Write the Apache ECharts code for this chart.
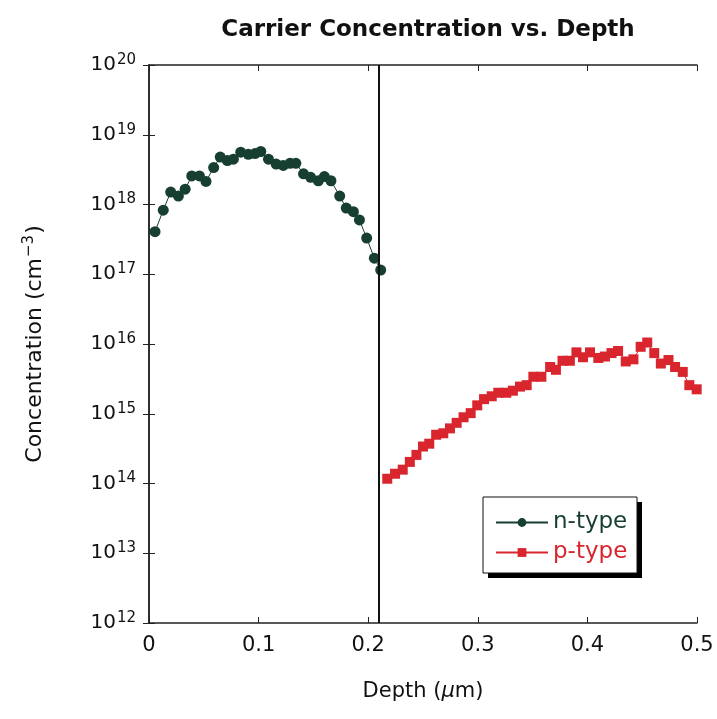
<!DOCTYPE html>
<html>
<head>
<meta charset="utf-8">
<script src="https://cdn.jsdelivr.net/npm/echarts@6/dist/echarts.min.js"></script>
<style>
  html, body { margin: 0; padding: 0; background: #fff; }
  #chart { width: 717px; height: 719px; }
</style>
</head>
<body>
<div id="chart"></div>
<script>
// 深度 (μm) 与浓度 (cm^-3)
var nDepth = [0.0055, 0.013, 0.0198, 0.0268, 0.033, 0.039, 0.046, 0.052, 0.059, 0.065, 0.0715,
  0.077, 0.0837, 0.0906, 0.0967, 0.102, 0.109, 0.116, 0.1225, 0.1287, 0.134, 0.141, 0.1475,
  0.1545, 0.160, 0.166, 0.174, 0.180, 0.1865, 0.192, 0.1986, 0.2056, 0.2114];
var nConc = [4.07e17, 8.3e17, 1.51e18, 1.32e18, 1.66e18, 2.57e18, 2.57e18, 2.14e18, 3.39e18, 4.79e18, 4.27e18,
  4.47e18, 5.62e18, 5.25e18, 5.37e18, 5.75e18, 4.47e18, 3.80e18, 3.63e18, 3.89e18, 3.89e18, 2.75e18, 2.45e18,
  2.19e18, 2.51e18, 2.19e18, 1.32e18, 8.9e17, 7.9e17, 6.0e17, 3.3e17, 1.7e17, 1.15e17];

var pDepth = [0.2174, 0.2245, 0.2315, 0.238, 0.244, 0.250, 0.2557, 0.262, 0.2685, 0.2746, 0.2807,
  0.287, 0.2935, 0.2995, 0.3057, 0.3127, 0.3187, 0.326, 0.332, 0.3385, 0.3446, 0.3507, 0.358,
  0.366, 0.3713, 0.3773, 0.384, 0.390, 0.396, 0.4024, 0.410, 0.416, 0.422, 0.428, 0.435,
  0.442, 0.4486, 0.4546, 0.461, 0.467, 0.474, 0.480, 0.487, 0.493, 0.4997];
var pConc = [1.17e14, 1.38e14, 1.58e14, 2.04e14, 2.57e14, 3.39e14, 3.72e14, 5.0e14, 5.25e14, 6.17e14, 7.41e14,
  8.9e14, 1.02e15, 1.32e15, 1.62e15, 1.78e15, 2.0e15, 2.0e15, 2.14e15, 2.45e15, 2.57e15, 3.39e15, 3.39e15,
  4.68e15, 4.27e15, 5.75e15, 5.75e15, 7.59e15, 6.46e15, 7.59e15, 6.31e15, 6.61e15, 7.41e15, 7.94e15, 5.62e15,
  6.03e15, 9.12e15, 1.05e16, 7.41e15, 5.25e15, 5.89e15, 4.68e15, 3.98e15, 2.57e15, 2.24e15];

var xTicks = [0, 0.1, 0.2, 0.3, 0.4, 0.5];
var junctionDepth = 0.21;

var nColor = '#173f31';
var pColor = '#d9252d';
var font = '"DejaVu Sans", sans-serif';

function pairs(xs, ys) {
  var out = [];
  for (var i = 0; i < xs.length; i++) out.push([xs[i], ys[i]]);
  return out;
}

var chart = echarts.init(document.getElementById('chart'));

var xBase = {
  type: 'value', min: 0, max: 0.5, interval: 0.1,
  axisLine: { show: true, onZero: false, lineStyle: { color: '#222', width: 1.5 } },
  axisTick: { show: true, inside: true, length: 6, lineStyle: { color: '#222' } },
  splitLine: { show: false }
};
var yBase = {
  type: 'log', logBase: 10, min: 1e12, max: 1e20,
  axisLine: { show: true, lineStyle: { color: '#222', width: 1.5 } },
  axisTick: { show: true, inside: true, length: 6, lineStyle: { color: '#222' } },
  splitLine: { show: false }
};

var option = {
  backgroundColor: '#fff',
  animation: false,
  title: {
    text: 'Carrier Concentration vs. Depth',
    left: 423, top: 14, textAlign: 'center',
    textStyle: { fontFamily: font, fontSize: 23, fontWeight: 'bold', color: '#111' }
  },
  grid: { left: 149, right: 20, top: 65, bottom: 96 },
  // 图例外框和阴影
  graphic: [
    { type: 'rect', z: 90, shape: { x: 488, y: 502, width: 154, height: 76 }, style: { fill: '#000' } },
    { type: 'rect', z: 91, shape: { x: 483, y: 497, width: 154, height: 76 }, style: { fill: '#fff', stroke: '#111', lineWidth: 1 } }
  ],
  legend: {
    orient: 'vertical',
    left: 495, top: 511,
    padding: 0,
    itemGap: 7,
    itemWidth: 52, itemHeight: 11,
    z: 100,
    textStyle: { fontFamily: font, fontSize: 23 },
    data: [
      { name: 'n-type', textStyle: { color: nColor } },
      { name: 'p-type', textStyle: { color: pColor } }
    ]
  },
  xAxis: [
    Object.assign({}, xBase, {
      position: 'bottom',
      name: 'Depth ({mu|μ}m)',
      nameLocation: 'middle', nameGap: 58,
      nameTextStyle: {
        fontFamily: font, fontSize: 21, color: '#111',
        rich: { mu: { fontFamily: font, fontSize: 21, fontStyle: 'italic', color: '#111' } }
      },
      axisLabel: {
        margin: 12, fontFamily: font, fontSize: 21, color: '#111',
        formatter: function (v) {
          for (var i = 0; i < xTicks.length; i++) {
            if (Math.abs(xTicks[i] - v) < 1e-9) return String(xTicks[i]);
          }
          return '';
        }
      }
    }),
    Object.assign({}, xBase, { position: 'top', axisLabel: { show: false } })
  ],
  yAxis: [
    Object.assign({}, yBase, {
      position: 'left',
      name: 'Concentration (cm{sup|−3})',
      nameLocation: 'middle', nameGap: 100,
      nameTextStyle: {
        fontFamily: font, fontSize: 22, color: '#111',
        rich: { sup: { fontFamily: font, fontSize: 15, color: '#111', padding: [0, 1, 12, 1] } }
      },
      axisLabel: {
        margin: 13, color: '#111',
        formatter: function (v) {
          return '{b|10}{s|' + Math.round(Math.log10(v)) + '}';
        },
        rich: {
          b: { fontFamily: font, fontSize: 20, color: '#111' },
          s: { fontFamily: font, fontSize: 15, color: '#111', padding: [0, 0, 10, 1] }
        }
      }
    }),
    Object.assign({}, yBase, { position: 'right', axisLabel: { show: false } })
  ],
  series: [
    {
      name: 'n-type', type: 'line',
      data: pairs(nDepth, nConc),
      symbol: 'circle', symbolSize: 11,
      itemStyle: { color: nColor },
      lineStyle: { color: nColor, width: 1 },
      markLine: {
        silent: true, symbol: 'none',
        label: { show: false },
        lineStyle: { color: '#111', width: 2, type: 'solid' },
        data: [{ xAxis: junctionDepth }]
      }
    },
    {
      name: 'p-type', type: 'line',
      data: pairs(pDepth, pConc),
      symbol: 'rect', symbolSize: 10,
      itemStyle: { color: pColor },
      lineStyle: { color: pColor, width: 1 }
    }
  ]
};

chart.setOption(option);
</script>
</body>
</html>
